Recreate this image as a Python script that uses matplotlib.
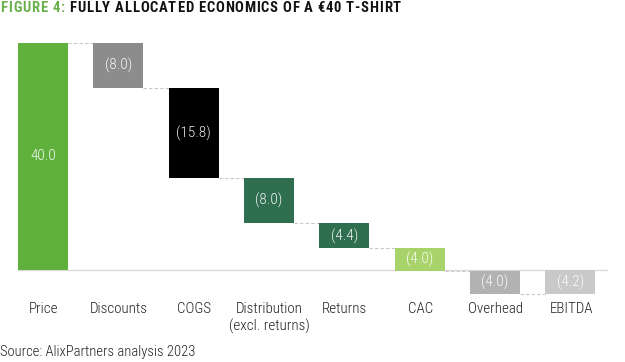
import numpy as np
import matplotlib.pyplot as plt

# chart data
categories = ["Price", "Discounts", "COGS", "Distribution\n(excl. returns)",
              "Returns", "CAC", "Overhead", "EBITDA"]
values = [40.0, -8.0, -15.8, -8.0, -4.4, -4.0, -4.0, -4.2]
labels = ["40.0", "(8.0)", "(15.8)", "(8.0)", "(4.4)", "(4.0)", "(4.0)", "(4.2)"]
colors = ["#5fb13c", "#8c8c8c", "#000000", "#2f6f4f", "#2f6f4f",
          "#a8d26a", "#b2b2b2", "#c9c9c9"]

plt.rcParams['font.family'] = ['Roboto Condensed', 'Roboto', 'DejaVu Sans']

fig = plt.figure(figsize=(6.25, 3.62), dpi=100)
ax = fig.add_axes([0.0085, 0.1757, 0.9643, 0.7213])

# waterfall: running totals, last bar is the total
x = np.arange(len(categories))
cum = np.cumsum(values[:-1])
bottoms = np.concatenate([[0], cum[:-1], [0]])
heights = np.array(values, dtype=float)
heights[-1] = cum[-1]
w = 0.66

ax.bar(x, heights, bottom=bottoms, width=w, color=colors, zorder=3)

for i in range(len(categories)):
    ymid = bottoms[i] + heights[i] / 2
    ax.text(x[i], ymid, labels[i], ha="center", va="center", color="white",
            alpha=0.92, fontsize=11, fontweight="light", zorder=4)

# dashed connectors
for i in range(len(categories) - 1):
    level = cum[i]
    ax.plot([x[i] + w / 2, x[i + 1] - w / 2], [level, level], ls=(0, (3, 2)),
            color="#c8c8c8", lw=0.8, zorder=2)

ax.axhline(0, xmin=(x[0] - w / 2 + 0.5) / 8, xmax=1.0, color="#d9d9d9", lw=0.9, zorder=1)

ax.set_xlim(-0.5, 7.5)
ax.set_ylim(-5, 41)
ax.axis("off")

# category labels
for i, c in enumerate(categories):
    fig.text((5.3 + 75.43 * i + 37.7) / 625, 1 - 302 / 362, c, ha="center", va="top",
             fontsize=10.8, fontweight="light", color="#222222", linespacing=1.2)

fig.text(0.0, 1 - 352 / 362, "Source: AlixPartners analysis 2023", ha="left",
         va="center", fontsize=10.5, fontweight="light", color="#222222")

# title with letter spacing
renderer = fig.canvas.get_renderer()
xpos = 0.5
title_parts = [("FIGURE 4: ", "#6ab04c"),
               ("FULLY ALLOCATED ECONOMICS OF A €40 T-SHIRT", "#111111")]
for part, col in title_parts:
    for ch in part:
        if ch == " ":
            xpos += 4.0
            continue
        t = fig.text(xpos / 625, 1 - 12.5 / 362, ch, ha="left", va="baseline",
                     fontsize=10.5, fontweight="bold", color=col)
        bb = t.get_window_extent(renderer)
        xpos += bb.width + 0.8

fig.savefig("out.png", dpi=100)
